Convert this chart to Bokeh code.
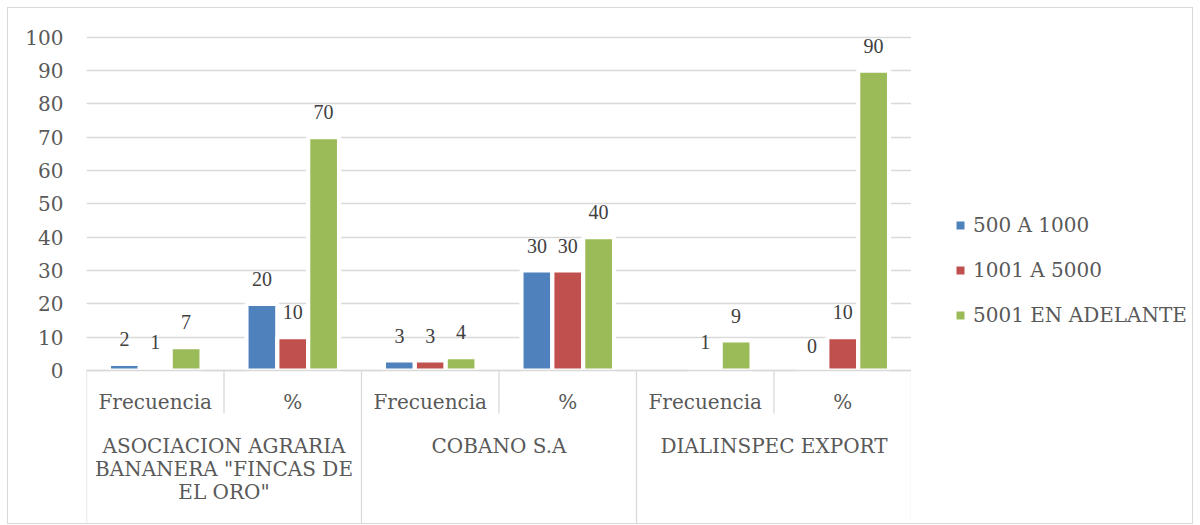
import textwrap
import numpy as np
from bokeh.plotting import figure
from bokeh.layouts import row
from bokeh.models import (ColumnDataSource, FactorRange, Range1d, FixedTicker,
                          LabelSet, Legend, LegendItem)
from bokeh.transform import dodge
from bokeh.core.properties import value
from bokeh.embed import file_html
from bokeh.resources import INLINE

# ---------------- data ----------------
companies = ['ASOCIACION AGRARIA BANANERA "FINCAS DE EL ORO"', "COBANO S.A", "DIALINSPEC EXPORT"]
measures = ["Frecuencia", "%"]
series_names = ["500 A 1000", "1001 A 5000", "5001 EN ADELANTE"]
s_500_1000 = [2, 20, 3, 30, None, 0]
s_1001_5000 = [1, 10, 3, 30, 1, 10]
s_5001_adelante = [7, 70, 4, 40, 9, 90]
y_ticks = [0, 10, 20, 30, 40, 50, 60, 70, 80, 90, 100]

# ---------------- style ----------------
colors = ["#4F81BD", "#C0504D", "#9BBB59"]
FONT = "DejaVu Serif"
FS = "20px"
AXIS_TXT = "#595959"
LABEL_TXT = "#404040"
LINE_CLR = "#d9d9d9"

W, H = 1184, 515
PX_PER_UNIT = 333.3 / 100.0
Y0_PX = 362.0             # canvas y of the value 0
FRAME_LEFT, FRAME_RIGHT = 78, 903
W_MAIN = FRAME_RIGHT
W_LEG = W - W_MAIN

y_top = Y0_PX / PX_PER_UNIT
y_bottom = y_top - H / PX_PER_UNIT


def below(px):
    """data y of a point px pixels below the zero line"""
    return -px / PX_PER_UNIT


factors = [(c, m) for c in companies for m in measures]

p = figure(
    x_range=FactorRange(*factors, factor_padding=0, group_padding=0,
                        subgroup_padding=0, range_padding=0),
    y_range=Range1d(y_bottom, y_top),
    width=W_MAIN, height=H, output_backend="svg", toolbar_location=None,
    min_border_left=FRAME_LEFT, min_border_right=0,
    min_border_top=0, min_border_bottom=0,
    outline_line_color=None,
)
p.background_fill_color = "white"
p.border_fill_color = "white"

# axes
p.xaxis.visible = False
p.xgrid.visible = False
p.yaxis.ticker = FixedTicker(ticks=y_ticks)
p.yaxis.axis_line_color = None
p.yaxis.major_tick_line_color = None
p.yaxis.minor_tick_line_color = None
p.yaxis.major_tick_out = 0
p.yaxis.major_tick_in = 0
p.yaxis.major_label_standoff = 23
p.yaxis.major_label_text_font = FONT
p.yaxis.major_label_text_font_size = FS
p.yaxis.major_label_text_color = AXIS_TXT
p.ygrid.ticker = FixedTicker(ticks=y_ticks)
p.ygrid.grid_line_color = LINE_CLR
p.ygrid.grid_line_width = 1.3

# bars
series = [s_500_1000, s_1001_5000, s_5001_adelante]
STEP = 0.2245
offsets = [-STEP, 0.0, STEP]
for vals, col, off in zip(series, colors, offsets):
    top = np.array([np.nan if v is None else v for v in vals], dtype=float)
    src = ColumnDataSource(dict(x=factors, top=top))
    p.vbar(x=dodge("x", off, range=p.x_range), top="top", width=STEP, source=src,
           fill_color=col, line_color="white", line_width=4.2)
    keep = [i for i, v in enumerate(vals) if v is not None]
    lsrc = ColumnDataSource(dict(x=[factors[i] for i in keep],
                                 y=[vals[i] for i in keep],
                                 t=[str(vals[i]) for i in keep]))
    p.add_layout(LabelSet(x=dodge("x", off, range=p.x_range), y="y", text="t",
                          source=lsrc, y_offset=25, text_align="center",
                          text_baseline="middle", text_font=FONT,
                          text_font_size=FS, text_color=LABEL_TXT))

# category table lines
seg_x0, seg_y0, seg_x1, seg_y1 = [], [], [], []
seg_x0.append((companies[0], measures[0], -0.5)); seg_x1.append((companies[-1], measures[-1], 0.5))
seg_y0.append(0); seg_y1.append(0)
for c in companies:
    seg_x0.append((c, measures[0], -0.5)); seg_x1.append((c, measures[0], -0.5))
    seg_y0.append(0); seg_y1.append(y_bottom)
    seg_x0.append((c, measures[1], -0.5)); seg_x1.append((c, measures[1], -0.5))
    seg_y0.append(0); seg_y1.append(below(43))
seg_x0.append((companies[-1], measures[-1], 0.5)); seg_x1.append((companies[-1], measures[-1], 0.5))
seg_y0.append(0); seg_y1.append(y_bottom)
p.segment(x0="x0", y0="y0", x1="x1", y1="y1", line_color=LINE_CLR, line_width=1.3,
          source=ColumnDataSource(dict(x0=seg_x0, y0=seg_y0, x1=seg_x1, y1=seg_y1)))

# sub-category labels
p.text(x=factors, y=[below(31.5)] * len(factors), text=[m for _, m in factors],
       text_align="center", text_baseline="middle", text_font=value(FONT),
       text_font_size=FS, text_color=AXIS_TXT)

# group labels (wrapped)
gx, gy, gt = [], [], []
for c in companies:
    for i, line in enumerate(textwrap.wrap(c, 21)):
        gx.append((c, measures[0], 0.5))
        gy.append(below(75 + 23.3 * i))
        gt.append(line)
p.text(x=gx, y=gy, text=gt, text_align="center", text_baseline="middle",
       text_font=value(FONT), text_font_size=FS, text_color=AXIS_TXT)

# legend panel (separate figure on the right)
q = figure(x_range=Range1d(0, 1), y_range=Range1d(0, 1), width=W_LEG, height=H,
           output_backend="svg", toolbar_location=None,
           min_border_left=0, min_border_right=0, min_border_top=0, min_border_bottom=0,
           outline_line_color=None)
q.axis.visible = False
q.grid.visible = False
items = []
for name, col in zip(series_names, colors):
    r = q.scatter(x=[0.5], y=[np.nan], marker="square", size=8,
                  fill_color=col, line_color=None)
    items.append(LegendItem(label=name, renderers=[r]))
legend = Legend(items=items, location=(39, 193), orientation="vertical",
                glyph_width=20, glyph_height=30, label_height=30, label_standoff=3,
                spacing=15, padding=0, margin=0, border_line_color=None,
                background_fill_alpha=0, label_text_font=FONT,
                label_text_font_size=FS, label_text_color=AXIS_TXT)
q.add_layout(legend, "center")

layout = row(p, q, spacing=0,
             styles={"border": "1px solid #d9d9d9", "margin-left": "7px", "margin-top": "7px"})

open("out.html", "w").write(file_html(layout, INLINE))
